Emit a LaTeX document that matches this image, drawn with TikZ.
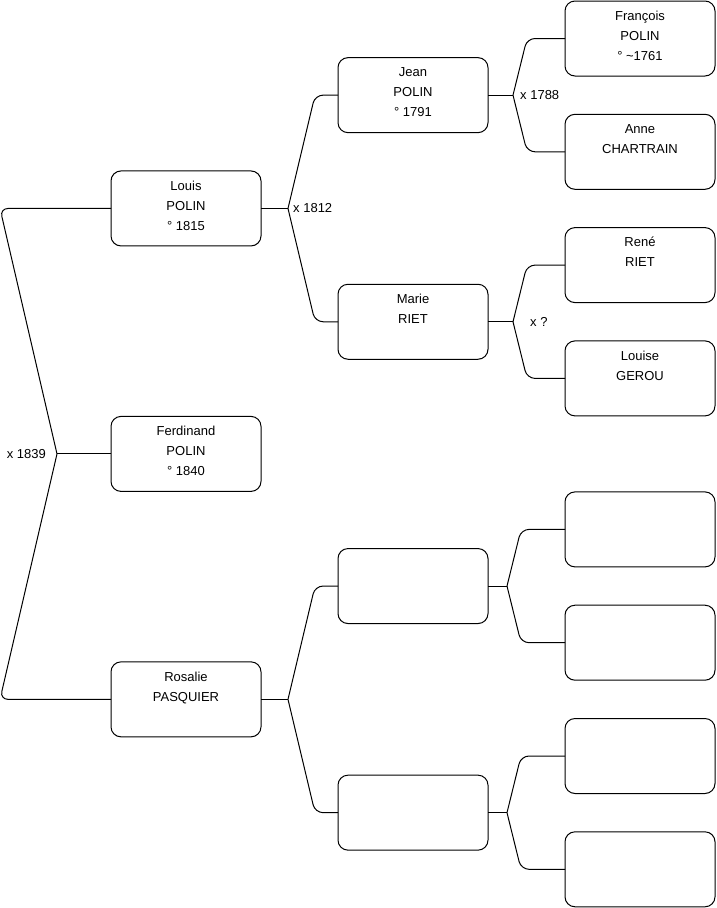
\documentclass[tikz,border=0pt]{standalone}
\usepackage{fontspec}
\setmainfont{Liberation Sans}
\usetikzlibrary{positioning, calc}

\begin{document}
\begin{tikzpicture}[
    x=1pt, y=-1pt,
    node distance=38.3pt,
    personne/.style={draw, rounded corners=10pt, line width=1pt, minimum width=150pt, minimum height=75pt,
        inner sep=0pt, outer sep=0pt, align=center, font=\fontsize{13}{20}\selectfont, execute at end node=\strut},
    lien/.style={line width=1pt, rounded corners=8pt},
    mariage/.style={font=\fontsize{13}{15}\selectfont, inner sep=0pt}
]
    \useasboundingbox (0,0) rectangle (716,908);

    % 1. Arriere-grands-parents (colonne de droite)
    \node[personne] (francois) at (640,38.5) {François\\POLIN\\° \textasciitilde1761};
    \node[personne, below=of francois] (anne) {Anne\\CHARTRAIN\\};
    \node[personne, below=of anne] (rene) {René\\RIET\\};
    \node[personne, below=of rene] (louise) {Louise\\GEROU\\};
    \node[personne, below=76pt of louise] (inconnuC) {};
    \node[personne, below=of inconnuC] (inconnuD) {};
    \node[personne, below=of inconnuD] (inconnuE) {};
    \node[personne, below=of inconnuE] (inconnuF) {};

    % 2. Grands-parents (au milieu de leurs parents)
    \node[personne] (jean) at ($(francois)!0.5!(anne) + (-227,0)$) {Jean\\POLIN\\° 1791};
    \node[personne] (marie) at ($(rene)!0.5!(louise) + (-227,0)$) {Marie\\RIET\\};
    \node[personne] (inconnuA) at ($(inconnuC)!0.5!(inconnuD) + (-227,0)$) {};
    \node[personne] (inconnuB) at ($(inconnuE)!0.5!(inconnuF) + (-227,0)$) {};

    % 3. Parents
    \node[personne] (louis) at ($(jean)!0.5!(marie) + (-227,0)$) {Louis\\POLIN\\° 1815};
    \node[personne] (rosalie) at ($(inconnuA)!0.5!(inconnuB) + (-227,0)$) {Rosalie\\PASQUIER\\};
    \node[personne] (ferdinand) at ($(louis)!0.5!(rosalie)$) {Ferdinand\\POLIN\\° 1840};

    % 4. Liens enfant -> couple (point d'union, puis un coude arrondi vers chaque parent)
    \foreach \enfant/\pere/\mere/\pas/\coin in {louis/jean/marie/27/23, jean/francois/anne/25/38,
        marie/rene/louise/25/38, rosalie/inconnuA/inconnuB/27/23,
        inconnuA/inconnuC/inconnuD/19/44, inconnuB/inconnuE/inconnuF/19/44} {
        \coordinate (u\enfant) at ($(\enfant.east) + (\pas,0)$);
        \draw[lien] (\enfant.east) -- (u\enfant);
        \draw[lien] (u\enfant) -- ($(\pere.west) + (-\coin,0)$) -- (\pere.west);
        \draw[lien] (u\enfant) -- ($(\mere.west) + (-\coin,0)$) -- (\mere.west);
    }

    % 5. Ferdinand : le couple part vers la gauche
    \coordinate (bord) at (0,0);
    \coordinate (uferdinand) at ($(ferdinand.west) + (-54,0)$);
    \draw[lien] (ferdinand.west) -- (uferdinand);
    \draw[lien] (uferdinand) -- (louis.west -| bord) -- (louis.west);
    \draw[lien] (uferdinand) -- (rosalie.west -| bord) -- (rosalie.west);

    % 6. Dates de mariage
    \node[mariage, right=5pt of ulouis] (mlouis) {x 1812};
    \node[mariage, right=7pt of ujean] (mjean) {x 1788};
    \node[mariage, right=17pt of umarie] (mmarie) {x ?};
    \node[mariage, left=11pt of uferdinand] (mferdinand) {x 1839};

\end{tikzpicture}
\end{document}
